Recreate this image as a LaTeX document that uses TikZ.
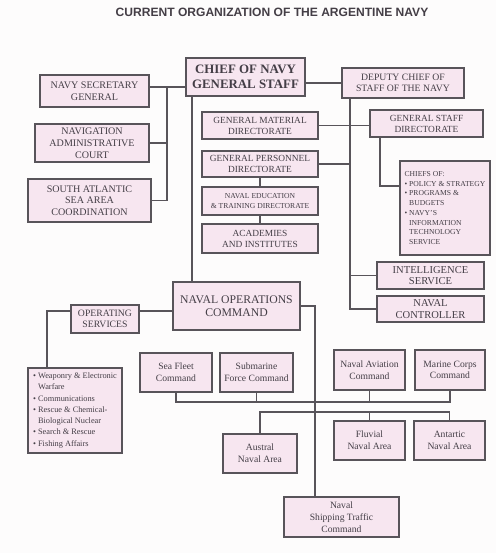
\documentclass[tikz,border=0pt]{standalone}
\usepackage{fontspec}
\setmainfont{Liberation Serif}
\setsansfont{Liberation Sans}
\usetikzlibrary{positioning, calc}
\definecolor{cPink}{RGB}{247,230,240}
\definecolor{cEdge}{RGB}{88,84,90}
\definecolor{cInk}{RGB}{68,62,70}
\definecolor{cPaper}{RGB}{253,252,252}
\tikzset{
	orgbox/.style={rectangle, draw=cEdge, line width=0.9pt, fill=cPink, text=cInk, align=center, inner sep=1pt, font=\fontsize{8.6}{10}\selectfont},
	chiefbox/.style={orgbox, line width=1.2pt, font=\fontsize{11}{12.8}\selectfont\bfseries},
	unitbox/.style={orgbox, font=\fontsize{8.2}{10}\selectfont},
	listbox/.style={orgbox, align=left, font=\fontsize{7.1}{9.6}\selectfont},
	link/.style={draw=cEdge, line width=0.9pt},
	% box sizes, given in scan pixels
	boxsize/.style 2 args={minimum width=#1*0.03cm, minimum height=#2*0.03cm},
}

\begin{document}
\begin{tikzpicture}[x=0.03cm, y=-0.03cm]
	\path[use as bounding box, fill=cPaper] (0,0) rectangle (496,553);
	\node[font=\sffamily\bfseries\fontsize{10.3}{12}\selectfont, text=cInk] (title) at (272,12) {CURRENT ORGANIZATION OF THE ARGENTINE NAVY};

	% staff level
	\node[chiefbox, boxsize={119}{38}] (chief) at (245.5,77) {CHIEF OF NAVY\\GENERAL STAFF};
	\node[orgbox, boxsize={109}{32}] (secGen) at (94.5,91) {NAVY SECRETARY\\GENERAL};
	\node[orgbox, boxsize={114}{38}] (navCourt) at (92,143) {NAVIGATION\\ADMINISTRATIVE\\COURT};
	\node[orgbox, boxsize={123}{43}] (southAtl) at (89.5,200.5) {SOUTH ATLANTIC\\SEA AREA\\COORDINATION};
	\node[orgbox, boxsize={122}{30}, font=\fontsize{8.3}{9.6}\selectfont] (deputy) at (403,83) {DEPUTY CHIEF OF\\STAFF OF THE NAVY};
	\node[orgbox, boxsize={116}{27}, font=\fontsize{8}{9.4}\selectfont] (genMat) at (260,125.5) {GENERAL MATERIAL\\DIRECTORATE};
	\node[orgbox, boxsize={113}{27}, font=\fontsize{8}{9.4}\selectfont] (genStaff) at (426.5,123.5) {GENERAL STAFF\\DIRECTORATE};
	\node[orgbox, boxsize={116}{26}, font=\fontsize{8}{9.4}\selectfont] (genPers) at (260,164) {GENERAL PERSONNEL\\DIRECTORATE};
	\node[orgbox, boxsize={116}{28}, font=\fontsize{6.5}{8.5}\selectfont] (navEdu) at (260,201) {NAVAL EDUCATION\\\& TRAINING DIRECTORATE};
	\node[orgbox, boxsize={116}{29}, font=\fontsize{8}{9.4}\selectfont] (academies) at (260,238.5) {ACADEMIES\\AND INSTITUTES};
	\node[listbox, boxsize={90}{94}, font=\fontsize{6.5}{8.3}\selectfont] (chiefsOf) at (445,208) {CHIEFS OF:\\
		\textbullet\ POLICY \& STRATEGY\\
		\textbullet\ PROGRAMS \&\\
		\hphantom{\textbullet\ }BUDGETS\\
		\textbullet\ NAVY'S\\
		\hphantom{\textbullet\ }INFORMATION\\
		\hphantom{\textbullet\ }TECHNOLOGY\\
		\hphantom{\textbullet\ }SERVICE};
	\node[orgbox, boxsize={107}{27}, font=\fontsize{9}{10}\selectfont] (intel) at (430.5,275.5) {INTELLIGENCE\\SERVICE};
	\node[orgbox, boxsize={107}{26}, font=\fontsize{9}{10}\selectfont] (controller) at (430.5,309) {NAVAL\\CONTROLLER};

	% operations level
	\node[orgbox, boxsize={127}{48}, font=\fontsize{10}{11.5}\selectfont] (navOps) at (236.5,306) {NAVAL OPERATIONS\\COMMAND};
	\node[orgbox, boxsize={68}{28}, font=\fontsize{8.3}{9.6}\selectfont] (opServ) at (105,319) {OPERATING\\SERVICES};
	\node[listbox, boxsize={94}{85}] (servList) at (75,410.5) {\textbullet\ Weaponry \& Electronic\\
		\hphantom{\textbullet\ }Warfare\\
		\textbullet\ Communications\\
		\textbullet\ Rescue \& Chemical-\\
		\hphantom{\textbullet\ }Biological Nuclear\\
		\textbullet\ Search \& Rescue\\
		\textbullet\ Fishing Affairs};
	\node[unitbox, boxsize={72}{39}] (seaFleet) at (176,372.5) {Sea Fleet\\Command};
	\node[unitbox, boxsize={73}{39}] (submarine) at (256.5,372.5) {Submarine\\Force Command};
	\node[unitbox, boxsize={71}{40}] (aviation) at (369.5,370) {Naval Aviation\\Command};
	\node[unitbox, boxsize={70}{40}] (marine) at (450,370) {Marine Corps\\Command};
	\node[unitbox, boxsize={74}{39}] (austral) at (260,453.5) {Austral\\Naval Area};
	\node[unitbox, boxsize={71}{39}] (fluvial) at (369.5,440.5) {Fluvial\\Naval Area};
	\node[unitbox, boxsize={71}{39}] (antartic) at (449.5,440.5) {Antartic\\Naval Area};
	\node[unitbox, boxsize={115}{40}] (shipping) at (341.5,517) {Naval\\Shipping Traffic\\Command};

	% rails and buses
	\coordinate (leftRail) at (167,87);
	\coordinate (rightRail) at (350,0);
	\coordinate (chiefDrop) at (192,0);
	\coordinate (opsDrop) at (315,0);
	\coordinate (staffDrop) at (380,186);
	\coordinate (servLink) at (47,311);
	\coordinate (fleetBus) at (0,402);
	\coordinate (areaBus) at (0,412);

	\draw[link] (secGen.east |- leftRail) -- (chief.west |- leftRail);
	\draw[link] (navCourt.east) -- (navCourt.east -| leftRail);
	\draw[link] (southAtl.east) -| (leftRail);
	\draw[link] (deputy.west) -- (deputy.west -| chief.east);
	\draw[link] (chiefDrop |- chief.south) -- (chiefDrop |- navOps.north);
	\draw[link] (rightRail |- deputy.south) |- (controller.west);
	\draw[link] (genMat.east) -- (genMat.east -| genStaff.west);
	\draw[link] (genPers.east) -- (genPers.east -| rightRail);
	\draw[link] (intel.west) -- (intel.west -| rightRail);
	\draw[link] (genPers.south) -- (navEdu.north);
	\draw[link] (navEdu.south) -- (academies.north);
	\draw[link] (staffDrop |- genStaff.south) |- (chiefsOf.west |- staffDrop);
	\draw[link] (navOps.east) -| (opsDrop |- shipping.north);
	\draw[link] (opServ.east |- servLink) -- (navOps.west |- servLink);
	\draw[link] (opServ.west |- servLink) -| (servLink |- servList.north);
	\draw[link] (seaFleet.south) |- (marine.south |- fleetBus) -- (marine.south);
	\foreach \n in {submarine, aviation}
		\draw[link] (\n.south) -- (\n.south |- fleetBus);
	\draw[link] (austral.north) |- (antartic.north |- areaBus) -- (antartic.north);
	\draw[link] (fluvial.north) -- (fluvial.north |- areaBus);
\end{tikzpicture}
\end{document}
